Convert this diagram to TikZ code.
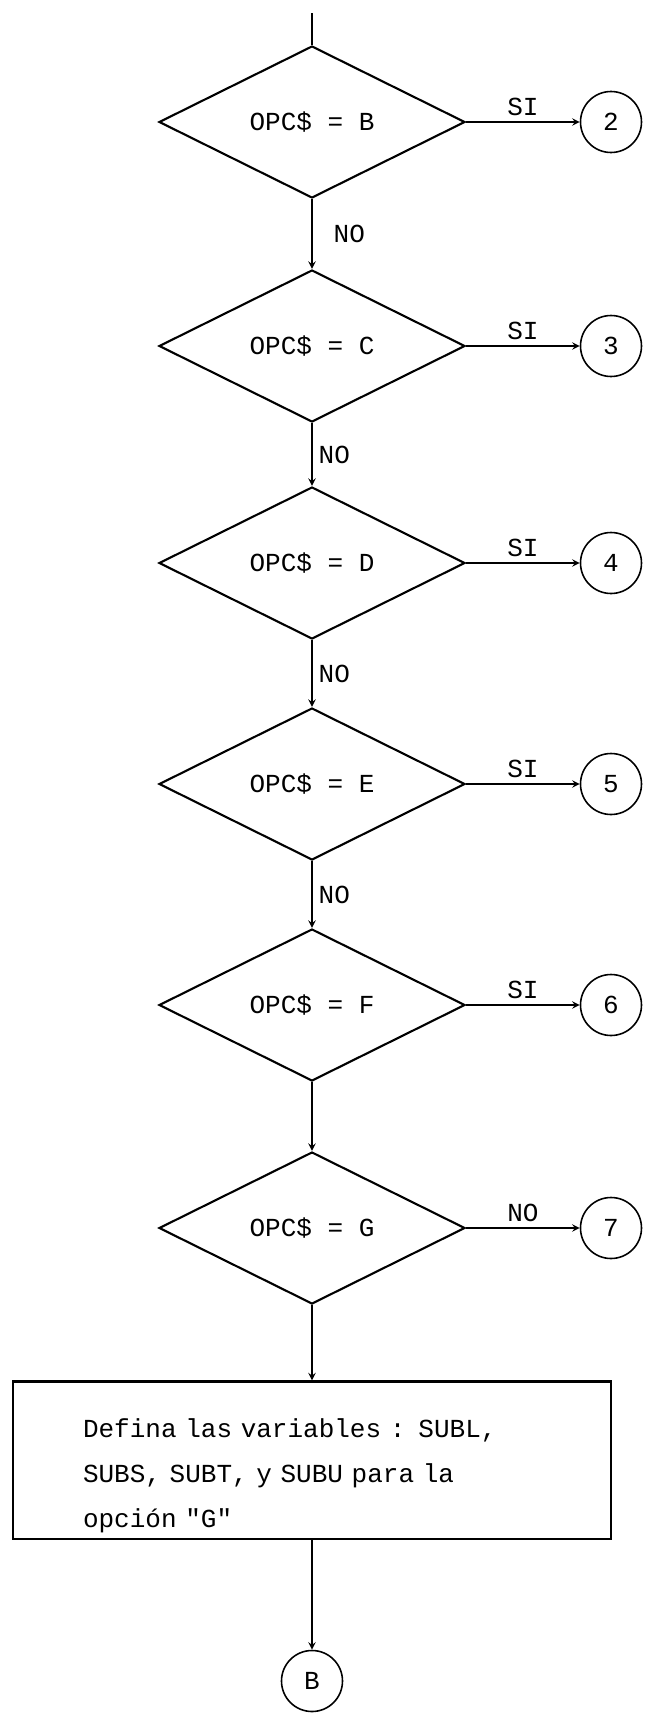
\documentclass[tikz,border=0pt]{standalone}
\usepackage{fontspec}
\setmainfont{Liberation Mono}
\usetikzlibrary{arrows,positioning,shapes}

\begin{document}
\begin{tikzpicture}[font=\fontsize{14.8}{25.6}\selectfont,>=stealth,
  dec/.style={diamond,draw,line width=1.2pt,minimum width=6.12cm,minimum height=3.04cm,inner sep=0pt},
  conn/.style={circle,draw,line width=0.9pt,minimum size=1.22cm,inner sep=0pt},
  proc/.style={rectangle,draw,line width=1.2pt,minimum width=11.96cm,minimum height=3.04cm,text width=9.16cm,inner xsep=1.4cm,align=left},
  flow/.style={line width=0.9pt}]
\useasboundingbox (0,0) rectangle (13.04,-34.26);
\coordinate (top) at (6.24,-0.26);
\node[dec] (qB) at (6.24,-2.44) {OPC\$ = B};
\node[dec] (qC) at (6.24,-6.92) {OPC\$ = C};
\node[dec] (qD) at (6.24,-11.26) {OPC\$ = D};
\node[dec] (qE) at (6.24,-15.68) {OPC\$ = E};
\node[dec] (qF) at (6.24,-20.1) {OPC\$ = F};
\node[dec] (qG) at (6.24,-24.56) {OPC\$ = G};
\node[conn] (2) at (12.22,-2.44) {2};
\node[conn] (3) at (12.22,-6.92) {3};
\node[conn] (4) at (12.22,-11.26) {4};
\node[conn] (5) at (12.22,-15.68) {5};
\node[conn] (6) at (12.22,-20.1) {6};
\node[conn] (7) at (12.22,-24.56) {7};
\node[proc] (box) at (6.24,-29.2) {\rule{0pt}{1cm}Defina las variables : SUBL,\\
SUBS, SUBT, y SUBU para la\\
opción \textquotedbl G\textquotedbl};
\node[conn] (B) at (6.24,-33.62) {B};
% main line
\draw[flow] (top)--(qB);
\draw[flow,->] (qB)--(qC) node[midway,right,xshift=0.3cm] {NO};
\draw[flow,->] (qC)--(qD) node[midway,right] {NO};
\draw[flow,->] (qD)--(qE) node[midway,right] {NO};
\draw[flow,->] (qE)--(qF) node[midway,right] {NO};
\draw[flow,->] (qF)--(qG);
\draw[flow,->] (qG)--(box);
\draw[flow,->] (box)--(B);
% side exits
\draw[flow,->] (qB)--(2) node[midway,above] {SI};
\draw[flow,->] (qC)--(3) node[midway,above] {SI};
\draw[flow,->] (qD)--(4) node[midway,above] {SI};
\draw[flow,->] (qE)--(5) node[midway,above] {SI};
\draw[flow,->] (qF)--(6) node[midway,above] {SI};
\draw[flow,->] (qG)--(7) node[midway,above] {NO};
\end{tikzpicture}
\end{document}
